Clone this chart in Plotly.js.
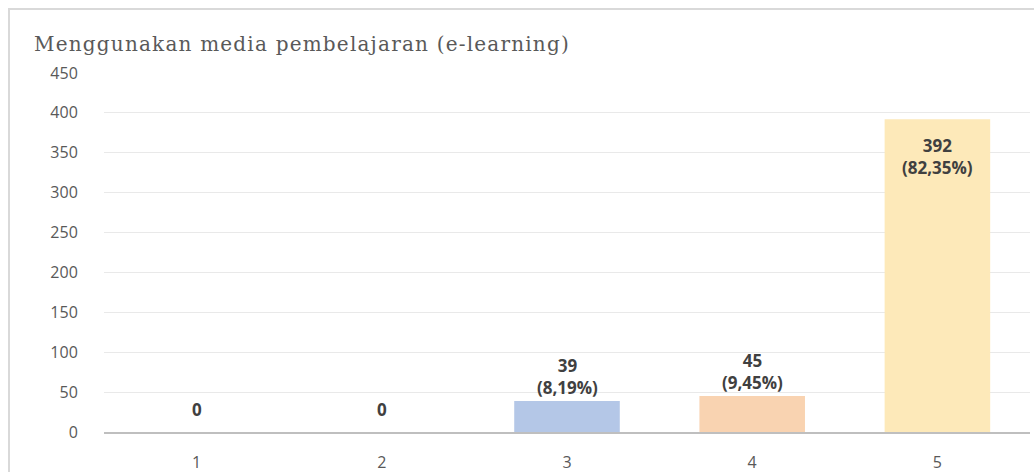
<!DOCTYPE html>
<html><head><meta charset="utf-8">
<script src="https://cdn.plot.ly/plotly-3.0.1.min.js"></script>
<style>
html,body{margin:0;padding:0;overflow:hidden;background:#fff;}
#frame{position:absolute;left:8px;top:8px;width:1060px;height:500px;border:2px solid #d9d9d9;box-sizing:border-box;pointer-events:none;z-index:5;}
#chart{position:absolute;left:0;top:0;width:1034px;height:472px;}
</style></head>
<body>
<div id="chart"></div>
<div id="frame"></div>
<script>
const categories = ["1", "2", "3", "4", "5"];
const counts = [0, 0, 39, 45, 392];
const percents = ["", "", "8,19%", "9,45%", "82,35%"];
const barColors = ["#b4c7e7", "#b4c7e7", "#b4c7e7", "#f9d3b1", "#fde9b9"];
const titleText = "Menggunakan media pembelajaran (e-learning)";
const yTicks = [0, 50, 100, 150, 200, 250, 300, 350, 400, 450];

const labels = counts.map((v, i) => percents[i] ? "<b>" + v + "<br>(" + percents[i] + ")</b>" : "<b>" + v + "</b>");

const annotations = categories.map((c, i) => {
  const inside = counts[i] > 200;
  return {
    x: i, y: counts[i], xref: "x", yref: "y",
    text: labels[i], showarrow: false,
    xanchor: "center", yanchor: inside ? "top" : "bottom",
    yshift: inside ? -13 : (counts[i] === 0 ? 9 : 0),
    font: {family: "Open Sans, Noto Sans, sans-serif", size: 17, color: "#404040"}
  };
});

const trace = {
  type: "bar", x: categories, y: counts,
  marker: {color: barColors, line: {width: 0}},
  hoverinfo: "none"
};

const layout = {
  width: 1034, height: 472,
  margin: {l: 104, r: 4, t: 73, b: 40},
  paper_bgcolor: "rgba(0,0,0,0)", plot_bgcolor: "#fff",
  bargap: 0.43,
  showlegend: false,
  title: {
    text: titleText, x: 34/1034, xanchor: "left", xref: "container",
    y: 1 - 44/472, yref: "container", yanchor: "middle",
    font: {family: "DejaVu Serif, serif", size: 20, color: "#595959"}
  },
  xaxis: {
    type: "category", showgrid: false, zeroline: false,
    range: [-0.5, categories.length - 0.5],
    showline: true, linecolor: "#bfbfbf", linewidth: 2,
    ticks: "outside", ticklen: 15, tickcolor: "rgba(0,0,0,0)",
    tickfont: {family: "Open Sans, Noto Sans, sans-serif", size: 16, color: "#595959"}
  },
  yaxis: {
    range: [0, 450], tickvals: yTicks, ticktext: yTicks.map(String),
    showgrid: true, gridcolor: "#e9e9e9", gridwidth: 1,
    zeroline: false, showline: false,
    ticks: "outside", ticklen: 22, tickcolor: "rgba(0,0,0,0)",
    tickfont: {family: "Open Sans, Noto Sans, sans-serif", size: 16, color: "#595959"}
  },
  annotations: annotations
};

Plotly.newPlot("chart", [trace], layout, {staticPlot: true, displayModeBar: false}).then(() => {
  const t = document.querySelector("#chart .gtitle");
  if (t) t.setAttribute("letter-spacing", "1.2px");
});
</script>
</body></html>
